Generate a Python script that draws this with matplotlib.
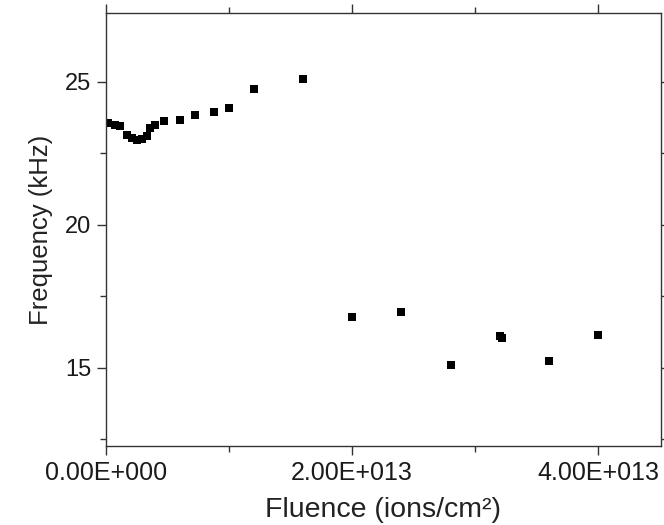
import numpy as np
import matplotlib
matplotlib.use('Agg')
import matplotlib.pyplot as plt
from matplotlib.ticker import MultipleLocator, FuncFormatter

plt.rcParams['font.family'] = ['Liberation Sans', 'DejaVu Sans']

# fluence in units of 1e13 ions/cm2, frequency in kHz
fluence = np.array([0.02, 0.07, 0.11, 0.17, 0.21, 0.25, 0.29, 0.33, 0.36, 0.40,
                    0.47, 0.60, 0.72, 0.88, 1.00, 1.20, 1.60,
                    2.00, 2.40, 2.80, 3.20, 3.22, 3.60, 4.00]) * 1e13
freq = np.array([23.55, 23.49, 23.44, 23.14, 23.02, 22.97, 22.99, 23.09, 23.37, 23.49,
                 23.61, 23.65, 23.85, 23.94, 24.08, 24.75, 25.09,
                 16.78, 16.94, 15.09, 16.10, 16.05, 15.23, 16.14])

fig = plt.figure(figsize=(6.64, 5.25), dpi=100)
ax = fig.add_axes([0.1596, 0.1505, 0.8359, 0.8247])

ax.plot(fluence, freq, 's', color='black', markersize=6.3, markeredgewidth=0)

ax.set_xlim(0, 4.51e13)
ax.set_ylim(12.27, 27.4)

ax.xaxis.set_major_locator(MultipleLocator(2e13))
ax.xaxis.set_minor_locator(MultipleLocator(1e13))
ax.yaxis.set_major_locator(MultipleLocator(5))
ax.yaxis.set_minor_locator(MultipleLocator(2.5))


def sci_fmt(v, pos):
    if v == 0:
        return '0.00E+000'
    e = int(np.floor(np.log10(abs(v))))
    return f'{v / 10**e:.2f}E+{e:03d}'


ax.xaxis.set_major_formatter(FuncFormatter(sci_fmt))

ax.tick_params(which='both', direction='out', top=True, right=True,
               color='#333333', labelcolor='#1a1a1a')
ax.tick_params(axis='x', labelsize=18, pad=4)
ax.tick_params(axis='y', labelsize=17, pad=4)
ax.tick_params(which='major', length=6.5, width=1.0)
ax.tick_params(which='minor', length=4, width=1.0)
for s in ax.spines.values():
    s.set_linewidth(1.0)
    s.set_color('#333333')

ax.set_xlabel('Fluence (ions/cm²)', fontsize=20.5, labelpad=9, color='#222222')
ax.set_ylabel('Frequency (kHz)', fontsize=18.5, labelpad=9, color='#222222')

fig.savefig('out.png', dpi=100)
